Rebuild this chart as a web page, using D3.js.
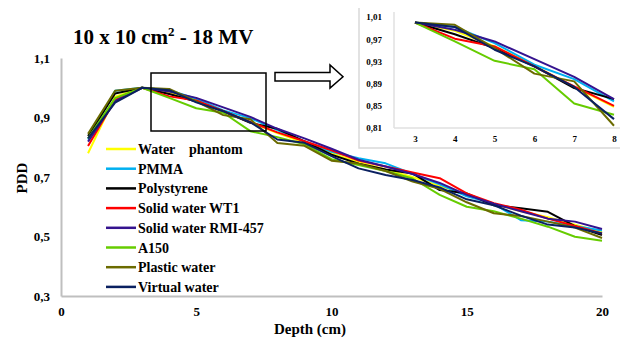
<!DOCTYPE html>
<html><head><meta charset="utf-8">
<script src="https://cdn.jsdelivr.net/npm/d3@7"></script>
<style>body{margin:0;background:#fff}svg{display:block}text{font-family:"Liberation Serif","Times New Roman",serif;font-weight:bold}</style>
</head><body>
<script>
const depths = [1,2,3,4,5,6,7,8,9,10,11,12,13,14,15,16,17,18,19,20];
const seriesNames = ["Water    phantom","PMMA","Polystyrene","Solid water WT1","Solid water RMI-457","A150","Plastic water","Virtual water"];
const seriesColors = ["#FFFF00","#00B0F0","#000000","#FF0000","#35138F","#66CC00","#6B6B00","#0A2060"];
const water = [0.780,0.970,1.0,0.985,0.957,0.922,0.884,0.848,0.815,0.780,0.750,0.725,0.700,0.670,0.640,0.610,0.585,0.565,0.540,0.515];
const pmma = [0.826,0.990,1.0,0.992,0.963,0.924,0.898,0.858,0.820,0.785,0.763,0.746,0.710,0.675,0.635,0.610,0.555,0.550,0.535,0.520];
const polystyrene = [0.838,0.981,1.0,0.979,0.954,0.921,0.882,0.862,0.820,0.775,0.745,0.725,0.712,0.656,0.645,0.605,0.595,0.583,0.535,0.505];
const wt1 = [0.804,0.959,1.0,0.971,0.957,0.921,0.885,0.850,0.820,0.790,0.755,0.735,0.715,0.696,0.645,0.612,0.590,0.560,0.535,0.510];
const rmi457 = [0.819,0.955,1.0,0.987,0.966,0.934,0.902,0.862,0.830,0.795,0.758,0.735,0.710,0.680,0.640,0.610,0.585,0.560,0.550,0.525];
const a150 = [0.830,0.965,1.0,0.966,0.931,0.916,0.854,0.834,0.810,0.760,0.740,0.720,0.695,0.640,0.600,0.585,0.560,0.533,0.499,0.486];
const plasticWater = [0.845,0.990,1.0,0.996,0.954,0.908,0.894,0.814,0.805,0.755,0.745,0.720,0.685,0.660,0.615,0.578,0.569,0.550,0.530,0.495];
const virtualWater = [0.830,0.950,1.0,0.992,0.951,0.921,0.884,0.826,0.815,0.770,0.729,0.707,0.690,0.665,0.625,0.605,0.570,0.540,0.530,0.510];
const allSeries = [water,pmma,polystyrene,wt1,rmi457,a150,plasticWater,virtualWater];
const mainYTicks = [0.3,0.5,0.7,0.9,1.1];
const mainXTicks = [0,5,10,15,20];
const insetYTicks = [0.81,0.85,0.89,0.93,0.97,1.01];
const insetXTicks = [3,4,5,6,7,8];
const zoomRange = [3,8];

const W=620,H=338;
const svg=d3.select("body").append("svg").attr("width",W).attr("height",H);
const fmt = d => String(d).replace(".",",");

// main chart
const x=d3.scaleLinear().domain([0,20]).range([61,602]);
const y=d3.scaleLinear().domain([0.3,1.1]).range([296,58]);

svg.append("text").attr("x",73).attr("y",44).style("font-size","21px")
  .html('10 x 10 cm<tspan dy="-8" style="font-size:13px">2</tspan><tspan dy="8"> - 18 MV</tspan>');

const gx=svg.append("g").attr("transform","translate(0,296)")
  .call(d3.axisBottom(x).tickValues(mainXTicks).tickSize(0).tickPadding(11).tickFormat(d=>d));
const gy=svg.append("g").attr("transform","translate(61,0)")
  .call(d3.axisLeft(y).tickValues(mainYTicks).tickSize(0).tickPadding(11).tickFormat(fmt));
[gx,gy].forEach(g=>{g.select(".domain").attr("stroke","#bfbfbf").attr("stroke-width",2);
  g.selectAll("text").style("font-family",'"Liberation Serif",serif').style("font-weight","bold").style("font-size","13px").attr("fill","#000");});

svg.append("text").attr("x",310).attr("y",334).attr("text-anchor","middle").style("font-size","15px").text("Depth (cm)");
svg.append("text").attr("transform","translate(27,178) rotate(-90)").attr("text-anchor","middle").style("font-size","15px").text("PDD");

const line=d3.line().x((d,i)=>x(depths[i])).y(d=>y(d));
allSeries.forEach((s,k)=>{
  svg.append("path").datum(s).attr("d",line).attr("fill","none").attr("stroke",seriesColors[k]).attr("stroke-width",2).attr("stroke-linejoin","round");
});

// legend
seriesNames.forEach((n,k)=>{
  const ly=149+k*19.7;
  svg.append("line").attr("x1",106).attr("x2",136).attr("y1",ly).attr("y2",ly).attr("stroke",seriesColors[k]).attr("stroke-width",2.5);
  svg.append("text").attr("x",138).attr("y",ly+5).style("font-size","14px").style("white-space","pre").attr("xml:space","preserve").text(n);
});

// zoom box and arrow
svg.append("rect").attr("x",151).attr("y",73).attr("width",115).attr("height",58).attr("fill","none").attr("stroke","#000").attr("stroke-width",1.5);
svg.append("path").attr("d","M275,72.5 L330,72.5 L330,65 L343,76.8 L330,88 L330,81 L275,81 Z").attr("fill","#fff").attr("stroke","#000").attr("stroke-width",1.5);

// inset
svg.append("path").attr("d","M359,8 L359,148 L620,148").attr("fill","none").attr("stroke","#d9d9d9").attr("stroke-width",1.5);
const xi=d3.scaleLinear().domain([3,8]).range([415,614]);
const yi=d3.scaleLinear().domain([0.81,1.01]).range([128,17]);
const gxi=svg.append("g").attr("transform","translate(0,128)")
  .call(d3.axisBottom(xi).tickValues(insetXTicks).tickSize(0).tickPadding(8).tickFormat(d=>d));
gxi.select(".domain").attr("d","M394,0H620");
const gyi=svg.append("g").attr("transform","translate(394,0)")
  .call(d3.axisLeft(yi).tickValues(insetYTicks).tickSize(0).tickPadding(12).tickFormat(d=>fmt(d.toFixed(2))));
gyi.select(".domain").attr("d","M0,12V128");
[gxi,gyi].forEach(g=>{g.select(".domain").attr("stroke","#e0e0e0").attr("stroke-width",1.5);
  g.selectAll("text").style("font-family",'"Liberation Serif",serif').style("font-weight","bold").style("font-size","9px").attr("fill","#000");});
const lineI=d3.line().x(d=>xi(d[0])).y(d=>yi(d[1]));
allSeries.forEach((s,k)=>{
  const pts=depths.map((d,i)=>[d,s[i]]).filter(p=>p[0]>=zoomRange[0]&&p[0]<=zoomRange[1]);
  svg.append("path").datum(pts).attr("d",lineI).attr("fill","none").attr("stroke",seriesColors[k]).attr("stroke-width",2).attr("stroke-linejoin","round");
});
</script>
</body></html>
